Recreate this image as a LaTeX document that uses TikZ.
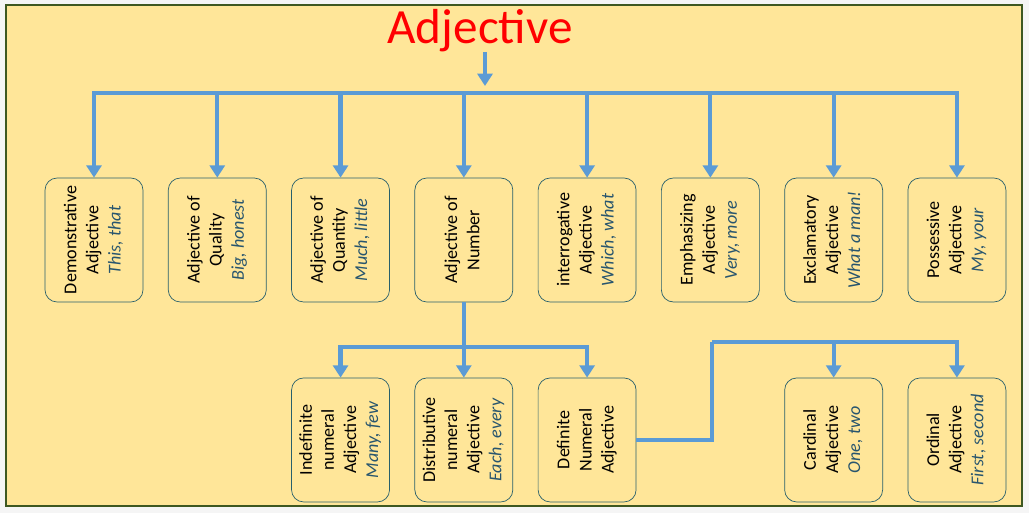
\documentclass[tikz,border=0pt]{standalone}
\usepackage{fontspec}
\setmainfont{Carlito}
\usepackage{graphicx}
\usetikzlibrary{arrows.meta}
\definecolor{sheet_yellow}{RGB}{255,230,153}
\definecolor{frame_green}{RGB}{62,88,33}
\definecolor{link_blue}{RGB}{91,155,213}
\definecolor{box_teal}{RGB}{40,96,108}
\definecolor{example_teal}{RGB}{40,85,110}
\newcommand{\example}[1]{\textcolor{example_teal}{\textit{#1}}}
\newcommand{\uptext}[1]{\rotatebox{90}{\begin{tabular}{@{}c@{}}#1\end{tabular}}}

\begin{document}
\begin{tikzpicture}[x=0.02cm, y=-0.02cm, node distance=2.466cm,
    kind/.style={draw=box_teal, rounded corners=0.24cm, minimum width=1.96cm,
                 minimum height=2.48cm, inner sep=0pt, font=\fontsize{10.3}{12.6}\selectfont},
    link/.style={draw=link_blue, line width=2.4pt, -{Triangle[length=7pt,width=8.5pt]}},
    wire/.style={draw=link_blue, line width=2.4pt}]
            % Sheet
            \fill[gray!8] (0,0) rectangle (1029,513);
            \draw[frame_green, line width=1.7pt, fill=sheet_yellow] (6,5) rectangle (1022,506);

            % Title
            \node[text=red, font=\fontsize{28}{32}\selectfont, inner sep=0pt] (title) at (480,31) {Adjective};
            \coordinate (bus) at (485,93);
            \coordinate (top) at (485,52);

            % First row
            \node[kind] (demo) at (94,240) {\uptext{Demonstrative\\Adjective\\\example{This, that}}};
            \node[kind, right of=demo] (quality) {\uptext{Adjective of\\Quality\\\example{Big, honest}}};
            \node[kind, right of=quality] (quantity) {\uptext{Adjective of\\Quantity\\\example{Much, little}}};
            \node[kind, right of=quantity] (number) {\uptext{Adjective of\\Number}};
            \node[kind, right of=number] (interrog) {\uptext{interrogative\\Adjective\\\example{Which, what}}};
            \node[kind, right of=interrog] (emphas) {\uptext{Emphasizing\\Adjective\\\example{Very, more}}};
            \node[kind, right of=emphas] (exclam) {\uptext{Exclamatory\\Adjective\\\example{What a man!}}};
            \node[kind, right of=exclam] (possess) {\uptext{Possessive\\Adjective\\\example{My, your}}};

            % Second row
            \node[kind, below of=quantity, node distance=4cm] (indef) {\uptext{Indefinite\\numeral\\Adjective\\\example{Many, few}}};
            \node[kind, below of=number, node distance=4cm] (distr) {\uptext{Distributive\\numeral\\Adjective\\\example{Each, every}}};
            \node[kind, below of=interrog, node distance=4cm] (defin) {\uptext{Definite\\Numeral\\Adjective}};
            \node[kind, below of=exclam, node distance=4cm] (cardinal) {\uptext{Cardinal\\Adjective\\\example{One, two}}};
            \node[kind, below of=possess, node distance=4cm] (ordinal) {\uptext{Ordinal\\Adjective\\\example{First, second}}};
            \path (number.south) ++(0,45) coordinate (numbus);
            \coordinate (defbus) at (712,342);

            % Arrows
            \draw[link] (top) -- ([yshift=0.14cm]bus);
            \foreach \n in {demo,quality,quantity,number,interrog,emphas,exclam,possess}
                \draw[link] (bus) -| (\n.north);
            \draw[wire] (number.south) -- (numbus);
            \foreach \n in {indef,distr,defin}
                \draw[link] (numbus) -| (\n.north);
            \draw[wire] (defin.east) -| (defbus);
            \foreach \n in {cardinal,ordinal}
                \draw[link] (defbus) -| (\n.north);
        \end{tikzpicture}
\end{document}
